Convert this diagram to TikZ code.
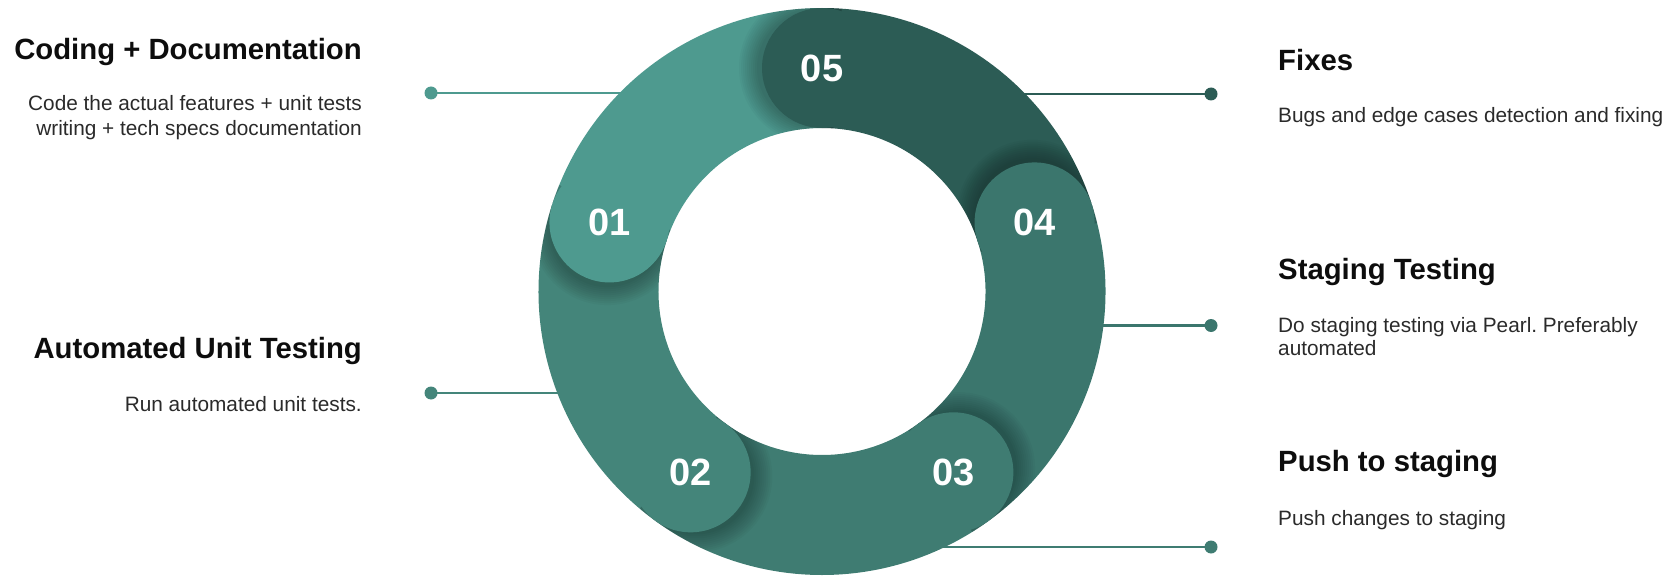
\documentclass[tikz,border=0pt]{standalone}
\usepackage{fontspec}
\setmainfont{Liberation Sans}
\usetikzlibrary{calc}
\definecolor{cA}{HTML}{4E9A8F}
\definecolor{cB}{HTML}{44857A}
\definecolor{cC}{HTML}{3F7C72}
\definecolor{cD}{HTML}{3B766D}
\definecolor{cE}{HTML}{2C5C55}
\definecolor{headc}{HTML}{0D0D0D}
\definecolor{bodyc}{HTML}{2A2A2A}
\frenchspacing
\tikzset{
  head/.style={font=\fontsize{29.3}{35}\selectfont\bfseries, text=headc, inner sep=0pt},
  body/.style={font=\fontsize{20.8}{25}\selectfont, text=bodyc, inner sep=0pt},
  num/.style={font=\fontsize{38}{40}\selectfont\bfseries, text=white, inner sep=0pt},
  conn/.style={line width=2.6pt},
  dotn/.style={circle, inner sep=0pt, minimum size=13pt},
  band/.style={line width=120pt},
  capn/.style={circle, inner sep=0pt, minimum size=120pt},
}
\begin{document}
\begin{tikzpicture}[x=1pt,y=1pt]
\useasboundingbox (0,0) rectangle (1670,582);
\coordinate (O) at (822,290.5);

% connectors (drawn below the ring)
\node[dotn, fill=cA] (d1) at (431,489) {};
\coordinate (e1) at (660,489);
\draw[conn, cA] (d1.center) -- (e1);
\node[dotn, fill=cB] (d2) at (431,189) {};
\coordinate (e2) at (600,189);
\draw[conn, cB] (d2.center) -- (e2);
\node[dotn, fill=cE] (d5) at (1211,488) {};
\coordinate (e5) at (990,488);
\draw[conn, cE] (d5.center) -- (e5);
\node[dotn, fill=cD] (d4) at (1211,256.5) {};
\coordinate (e4) at (1050,256.5);
\draw[conn, cD] (d4.center) -- (e4);
\node[dotn, fill=cC] (d3) at (1211,35) {};
\coordinate (e3) at (900,35);
\draw[conn, cC] (d3.center) -- (e3);

% bands
\draw[band, cA] ($(O)+(162:223.5pt)$) arc[start angle=162, end angle=90, radius=223.5pt];
\draw[band, cE] ($(O)+(90:223.5pt)$) arc[start angle=90, end angle=18, radius=223.5pt];
\draw[band, cD] ($(O)+(18:223.5pt)$) arc[start angle=18, end angle=-54, radius=223.5pt];
\draw[band, cC] ($(O)+(-54:223.5pt)$) arc[start angle=-54, end angle=-126, radius=223.5pt];
\draw[band, cB] ($(O)+(234:223.5pt)$) arc[start angle=234, end angle=162, radius=223.5pt];

% cap shadows, kept on the ring
\begin{scope}[even odd rule]
  \clip (O) circle[radius=283.5pt] (O) circle[radius=163.5pt];
  \foreach \a in {162,234,306,18,90}{
    \begin{scope}[nonzero rule]
      \clip (O) -- ($(O)+(\a-4:420pt)$) -- ($(O)+(\a+45:420pt)$) -- cycle;
      \coordinate (S) at ($(O)+(\a:223.5pt)+(\a+90:7pt)$);
      \foreach \rr in {58,60,...,76}{
        \fill[black, opacity=0.028] (S) circle[radius=\rr pt];
      }
    \end{scope}
  }
\end{scope}

% caps
\node[capn, fill=cA] (c1) at ($(O)+(162:223.5pt)$) {};
\node[capn, fill=cB] (c2) at ($(O)+(234:223.5pt)$) {};
\node[capn, fill=cC] (c3) at ($(O)+(306:223.5pt)$) {};
\node[capn, fill=cD] (c4) at ($(O)+(18:223.5pt)$) {};
\node[capn, fill=cE] (c5) at ($(O)+(90:223.5pt)$) {};
\node[num] (n1) at (c1) {01};
\node[num] (n2) at (c2) {02};
\node[num] (n3) at (c3) {03};
\node[num] (n4) at (c4) {04};
\node[num] (n5) at (c5) {05};

% texts left
\node[head, anchor=base east] (h1) at (362,522.7) {Coding + Documentation};
\node[body, anchor=base east] (b1a) at (362,471.3) {Code the actual features + unit tests};
\node[body, anchor=base east] (b1b) at (362,446) {writing + tech specs documentation};
\node[head, anchor=base east] (h2) at (362,223.5) {Automated Unit Testing};
\node[body, anchor=base east] (b2) at (362,170.3) {Run automated unit tests.};

% texts right
\node[head, anchor=base west] (h5) at (1278,511.3) {Fixes};
\node[body, anchor=base west] (b5) at (1278,459) {Bugs and edge cases detection and fixing};
\node[head, anchor=base west] (h4) at (1278,303) {Staging Testing};
\node[body, anchor=base west] (b4a) at (1278,250) {Do staging testing via Pearl. Preferably};
\node[body, anchor=base west] (b4b) at (1278,227) {automated};
\node[head, anchor=base west] (h3) at (1278,111) {Push to staging};
\node[body, anchor=base west] (b3) at (1278,56.5) {Push changes to staging};
\end{tikzpicture}
\end{document}
